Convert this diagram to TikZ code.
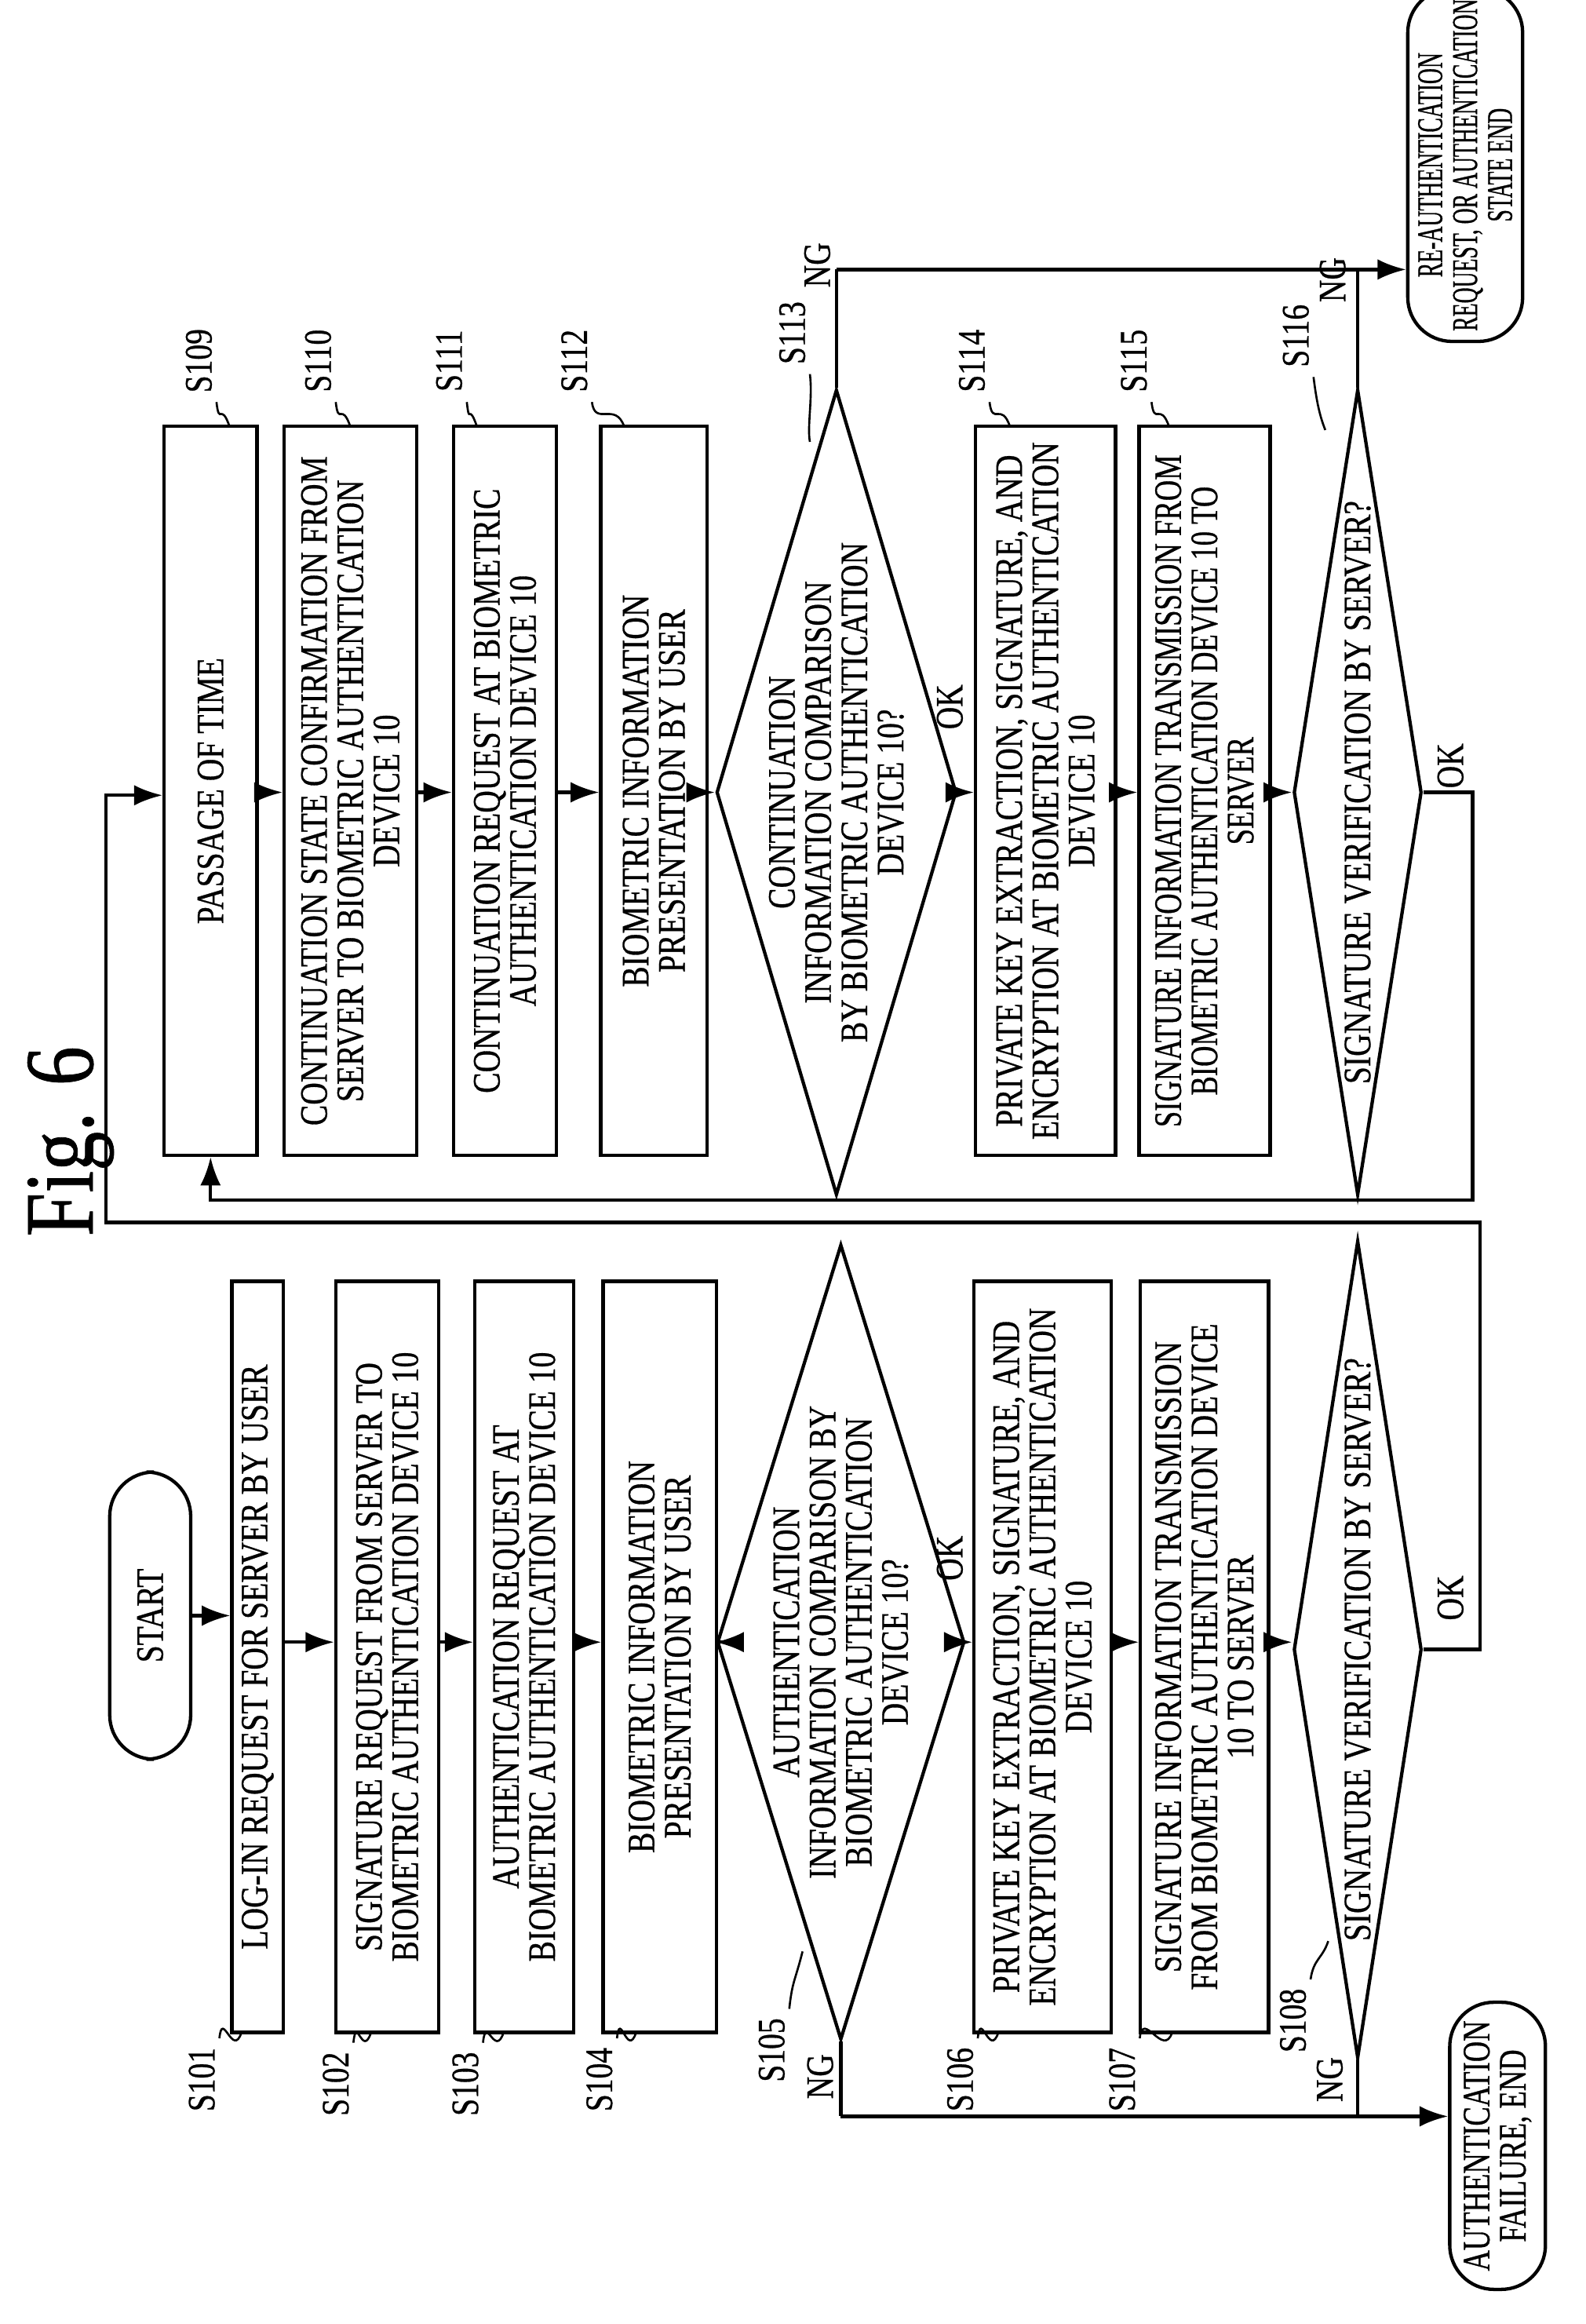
\documentclass[tikz,border=0pt]{standalone}
\usepackage{fontspec}
\setmainfont{Liberation Serif}[FakeStretch=0.8,FakeBold=0.6]
\newfontfamily\narrowf{Liberation Serif}[FakeStretch=0.6,FakeBold=0.6]
\newfontfamily\semif{Liberation Serif}[FakeStretch=0.74,FakeBold=0.6]
\usetikzlibrary{shapes.geometric,arrows.meta}
\begin{document}
\begin{tikzpicture}[x=0.02cm,y=-0.02cm,
  every node/.style={font=\fontsize{15}{14}\selectfont},
  box/.style={draw,line width=1.3pt,rotate=90,align=center,inner sep=2pt},
  term/.style={draw,line width=1.3pt,rotate=90,align=center,rounded corners=0.6cm,inner sep=4pt},
  dia/.style={draw,line width=1.3pt,diamond,rotate=90,inner sep=0pt},
  dtxt/.style={rotate=90,align=center},
  lab/.style={rotate=90},
  lead/.style={line width=0.8pt},
  ln/.style={line width=1.3pt},
  arr/.style={line width=1.3pt,-{Latex[length=11pt,width=8pt]}}]
\useasboundingbox (0,0) rectangle (1077,1578);
\node[rotate=90,font=\fontsize{38}{38}\selectfont] (fig) at (48,775) {Fig. 6};
% left column
\node[term,minimum width=3.9cm,minimum height=1.1cm] (start) at (102,1097) {START};
\node[box,minimum width=10.2cm,minimum height=0.7cm] (s101) at (175,1125) {LOG-IN REQUEST FOR SERVER BY USER};
\node[box,minimum width=10.2cm,minimum height=1.4cm] (s102) at (263,1125) {SIGNATURE REQUEST FROM SERVER TO\\BIOMETRIC AUTHENTICATION DEVICE 10};
\node[box,minimum width=10.2cm,minimum height=1.34cm] (s103) at (356,1125) {AUTHENTICATION REQUEST AT\\BIOMETRIC AUTHENTICATION DEVICE 10};
\node[box,minimum width=10.2cm,minimum height=1.54cm] (s104) at (448,1125) {BIOMETRIC INFORMATION\\PRESENTATION BY USER};
\node[dia,minimum width=10.8cm,minimum height=3.36cm] (s105) at (571,1115) {};
\node[dtxt] (t105) at (571,1115) {AUTHENTICATION\\INFORMATION COMPARISON BY\\BIOMETRIC AUTHENTICATION\\DEVICE 10?};
\node[box,minimum width=10.2cm,minimum height=1.86cm] (s106) at (708,1125) {PRIVATE KEY EXTRACTION, SIGNATURE, AND\\ENCRYPTION AT BIOMETRIC AUTHENTICATION\\DEVICE 10};
\node[box,minimum width=10.2cm,minimum height=1.74cm] (s107) at (818,1125) {SIGNATURE INFORMATION TRANSMISSION\\FROM BIOMETRIC AUTHENTICATION DEVICE\\10 TO SERVER};
\node[dia,minimum width=11.1cm,minimum height=1.74cm] (s108) at (922,1120) {};
\node[dtxt] (t108) at (922,1120) {SIGNATURE VERIFICATION BY SERVER?};
\node[term,minimum width=3.9cm,minimum height=1.3cm,font=\semif\fontsize{15}{14}\selectfont] (fail) at (1017,1457) {AUTHENTICATION\\FAILURE, END};
% right column
\node[box,minimum width=9.9cm,minimum height=1.26cm] (s109) at (143,537) {PASSAGE OF TIME};
\node[box,minimum width=9.9cm,minimum height=1.8cm] (s110) at (238,537) {CONTINUATION STATE CONFIRMATION FROM\\SERVER TO BIOMETRIC AUTHENTICATION\\DEVICE 10};
\node[box,minimum width=9.9cm,minimum height=1.4cm] (s111) at (343,537) {CONTINUATION REQUEST AT BIOMETRIC\\AUTHENTICATION DEVICE 10};
\node[box,minimum width=9.9cm,minimum height=1.44cm] (s112) at (444,537) {BIOMETRIC INFORMATION\\PRESENTATION BY USER};
\node[dia,minimum width=10.94cm,minimum height=3.26cm] (s113) at (568,538) {};
\node[dtxt] (t113) at (568,538) {CONTINUATION\\INFORMATION COMPARISON\\BY BIOMETRIC AUTHENTICATION\\DEVICE 10?};
\node[box,minimum width=9.9cm,minimum height=1.9cm] (s114) at (710,537) {PRIVATE KEY EXTRACTION, SIGNATURE, AND\\ENCRYPTION AT BIOMETRIC AUTHENTICATION\\DEVICE 10};
\node[box,minimum width=9.9cm,minimum height=1.78cm,font=\semif\fontsize{15}{14}\selectfont] (s115) at (818,537) {SIGNATURE INFORMATION TRANSMISSION FROM\\BIOMETRIC AUTHENTICATION DEVICE 10 TO\\SERVER};
\node[dia,minimum width=10.94cm,minimum height=1.74cm] (s116) at (922,538) {};
\node[dtxt] (t116) at (922,538) {SIGNATURE VERIFICATION BY SERVER?};
\node[term,minimum width=3.8cm,minimum height=1.4cm,font=\narrowf\fontsize{14}{13.5}\selectfont] (reauth) at (995,112) {RE-AUTHENTICATION\\REQUEST, OR AUTHENTICATION\\STATE END};
% flow arrows
\draw[arr] (start.south) -- (s101.north |- start.south);
\foreach \a/\b in {s101/s102,s102/s103,s103/s104,s105/s106,s106/s107,s107/s108}{
  \draw[arr] (\a.south |- s105.center) -- (\b.north |- s105.center);
}
\draw[arr] (s104.south |- s105.center) -- (s105.north);
\foreach \a/\b in {s109/s110,s110/s111,s111/s112,s112/s113,s113/s114,s114/s115,s115/s116}{
  \draw[arr] (\a.south |- s113.center) -- (\b.north |- s113.center);
}
% NG paths
\coordinate (ngL) at (571,1437);
\draw[ln] (s105.west) -- (ngL);
\draw[arr] (ngL) -- (fail.north |- ngL);
\draw[ln] (s108.west) -- (s108.west |- ngL);
\coordinate (ngR) at (568,183);
\draw[ln] (s113.east) -- (ngR);
\draw[arr] (ngR) -- (reauth.north |- ngR);
\draw[ln] (s116.east) -- (s116.east |- ngR);
% OK loops
\coordinate (okL1) at (1005,1120);
\coordinate (okL2) at (1005,830);
\coordinate (okL3) at (72,830);
\coordinate (okL4) at (72,540);
\draw[arr] (s108.south) -- (okL1) -- (okL2) -- (okL3) -- (okL4) -- (s109.north |- okL4);
\coordinate (okR1) at (1000,538);
\coordinate (okR2) at (1000,815);
\coordinate (okR3) at (143,815);
\draw[arr] (s116.south) -- (okR1) -- (okR2) -- (okR3) -- (s109.west);
% labels
\node[lab] (ok105) at (645,1058) {OK};
\node[lab] (ok108) at (985,1085) {OK};
\node[lab] (ok113) at (645,480) {OK};
\node[lab] (ok116) at (985,520) {OK};
\node[lab] (ng105) at (557,1410) {NG};
\node[lab] (ng108) at (903,1412) {NG};
\node[lab] (ng113) at (555,180) {NG};
\node[lab] (ng116) at (905,190) {NG};
% step labels
\foreach \n/\x/\y/\bx/\by in {101/137/1412/158/1380, 102/228/1415/246/1380, 103/316/1415/336/1380, 104/407/1412/426/1380, 106/652/1412/672/1380, 107/762/1412/790/1380}{
  \node[lab] (l\n) at (\x,\y) {S\n};
  \draw[lead] (\x+12,\y-28) .. controls (\x+14,\y-48) and (\bx,\by+18) .. (\bx+6,\by);
}
\node[lab] (l105) at (524,1392) {S105};
\draw[lead] (536,1364) .. controls (538,1345) and (540,1345) .. (545,1325);
\node[lab] (l108) at (878,1372) {S108};
\draw[lead] (890,1344) .. controls (892,1330) and (898,1330) .. (902,1318);
\foreach \n/\x/\y/\bx/\by in {109/135/245/150/290, 110/216/245/232/290, 111/305/245/318/290, 112/390/245/418/290, 114/660/245/680/290, 115/770/245/788/290}{
  \node[lab] (l\n) at (\x,\y) {S\n};
  \draw[lead] (\x+12,\y+28) .. controls (\x+14,\y+45) and (\bx,\by-18) .. (\bx+6,\by);
}
\node[lab] (l113) at (538,226) {S113};
\draw[lead] (550,254) .. controls (552,270) and (548,290) .. (550,300);
\node[lab] (l116) at (880,228) {S116};
\draw[lead] (892,256) .. controls (894,272) and (896,282) .. (900,292);
\end{tikzpicture}
\end{document}
